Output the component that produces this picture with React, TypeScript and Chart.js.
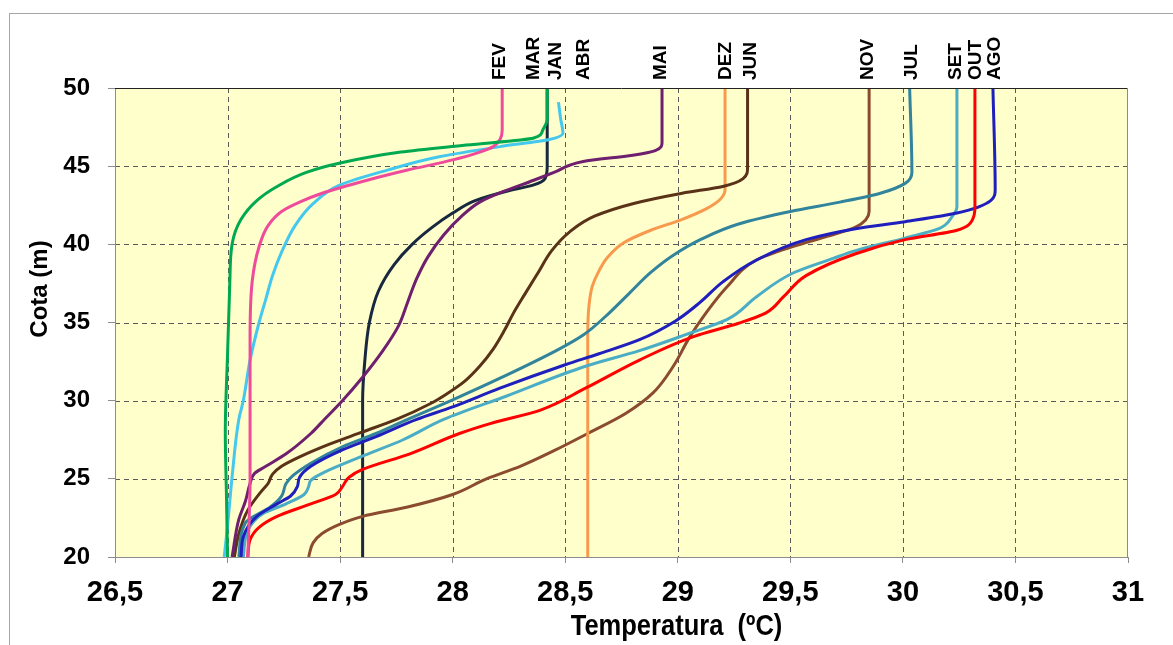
import React, { useEffect, useRef } from 'react';
import { Chart, registerables } from 'chart.js';

Chart.register(...registerables);

// Axis ticks
const xTicks = [26.5, 27, 27.5, 28, 28.5, 29, 29.5, 30, 30.5, 31];
const yTicks = [20, 25, 30, 35, 40, 45, 50];

// Temperature profiles: [temperature (ºC), cota (m)]
const JAN: [number, number][] = [[26.985, 20], [27.0, 22], [27.02, 25.1], [27.05, 28.8], [27.07, 30], [27.1, 32.6], [27.14, 35], [27.17, 36.5], [27.2, 38], [27.24, 39.5], [27.3, 41.2], [27.38, 42.6], [27.5, 43.8], [27.71, 44.75], [27.94, 45.6], [28.21, 46.25], [28.43, 46.7], [28.49, 47.1], [28.48, 48], [28.47, 49.1]];
const FEV: [number, number][] = [[27.09, 20], [27.1, 25], [27.1, 30], [27.1, 34], [27.11, 37.7], [27.14, 39.85], [27.18, 41.2], [27.24, 42.1], [27.32, 42.7], [27.42, 43.27], [27.62, 44.1], [27.8, 44.75], [28.0, 45.4], [28.12, 45.9], [28.18, 46.25], [28.21, 46.7], [28.22, 47.3], [28.22, 50]];
const MAR: [number, number][] = [[27.0, 20], [26.995, 24], [26.99, 28], [27.0, 33], [27.01, 37.5], [27.02, 40], [27.06, 41.6], [27.13, 42.8], [27.22, 43.7], [27.35, 44.6], [27.5, 45.2], [27.77, 45.9], [28.06, 46.35], [28.36, 46.8], [28.4, 47.3], [28.42, 48], [28.42, 50]];
const ABR: [number, number][] = [[27.6, 20], [27.6, 25], [27.6, 30], [27.61, 32.6], [27.63, 35], [27.67, 37], [27.74, 38.7], [27.82, 40.0], [27.91, 41.1], [28.0, 42.0], [28.1, 42.8], [28.24, 43.4], [28.36, 43.8], [28.41, 44.2], [28.42, 45], [28.42, 50]];
const MAI: [number, number][] = [[27.02, 20], [27.05, 22.4], [27.08, 23.6], [27.1, 24.7], [27.12, 25.35], [27.17, 25.8], [27.26, 26.6], [27.37, 27.9], [27.43, 28.8], [27.51, 30], [27.6, 31.5], [27.69, 33.2], [27.76, 34.8], [27.8, 36.3], [27.84, 37.8], [27.89, 39.2], [27.96, 40.6], [28.04, 41.8], [28.12, 42.7], [28.22, 43.35], [28.36, 44.1], [28.45, 44.6], [28.58, 45.3], [28.8, 45.7], [28.9, 46.0], [28.93, 46.5], [28.93, 50]];
const JUN: [number, number][] = [[27.03, 20], [27.05, 21.5], [27.09, 23], [27.15, 24.2], [27.18, 24.7], [27.2, 25.3], [27.24, 25.8], [27.32, 26.4], [27.45, 27.2], [27.6, 28.0], [27.75, 28.8], [27.9, 29.8], [27.97, 30.4], [28.05, 31.2], [28.12, 32.2], [28.18, 33.3], [28.23, 34.5], [28.27, 35.6], [28.32, 36.8], [28.38, 38.2], [28.44, 39.6], [28.52, 40.8], [28.63, 41.8], [28.8, 42.6], [29.02, 43.27], [29.2, 43.7], [29.29, 44.2], [29.31, 44.9], [29.31, 50]];
const JUL: [number, number][] = [[27.05, 20], [27.08, 22.2], [27.19, 23.2], [27.24, 23.9], [27.26, 24.7], [27.29, 25.2], [27.37, 26.0], [27.51, 27.05], [27.66, 27.9], [27.8, 28.8], [28.0, 30.05], [28.22, 31.5], [28.46, 33.2], [28.58, 34.2], [28.68, 35.4], [28.78, 36.8], [28.88, 38.2], [28.98, 39.3], [29.1, 40.3], [29.27, 41.3], [29.5, 42.1], [29.72, 42.7], [29.9, 43.27], [30.01, 43.9], [30.04, 44.6], [30.03, 50]];
const AGO: [number, number][] = [[27.06, 20], [27.07, 21.3], [27.13, 22.6], [27.22, 23.4], [27.28, 23.9], [27.31, 24.5], [27.32, 25.1], [27.37, 25.8], [27.51, 26.85], [27.66, 27.7], [27.84, 28.8], [28.0, 29.6], [28.21, 30.8], [28.5, 32.3], [28.65, 33.0], [28.83, 33.9], [28.99, 35.1], [29.1, 36.3], [29.2, 37.6], [29.35, 39.0], [29.57, 40.3], [29.79, 41.0], [30.01, 41.45], [30.24, 42.0], [30.39, 42.8], [30.41, 43.5], [30.4, 50]];
const SET: [number, number][] = [[27.07, 20], [27.09, 21.7], [27.16, 22.8], [27.26, 23.4], [27.34, 24.0], [27.36, 24.5], [27.37, 24.9], [27.42, 25.35], [27.59, 26.4], [27.78, 27.5], [27.96, 28.8], [28.24, 30.3], [28.59, 32.2], [28.83, 33.2], [29.05, 34.3], [29.22, 35.2], [29.35, 36.65], [29.51, 38.15], [29.69, 39.1], [29.79, 39.6], [30.01, 40.4], [30.16, 41.0], [30.22, 41.8], [30.24, 42.4], [30.24, 50]];
const OUT: [number, number][] = [[27.09, 20], [27.1, 21.1], [27.14, 21.9], [27.22, 22.6], [27.37, 23.4], [27.48, 24.0], [27.51, 24.5], [27.54, 25.1], [27.6, 25.6], [27.81, 26.6], [28.03, 27.9], [28.17, 28.55], [28.39, 29.4], [28.59, 30.8], [28.83, 32.6], [29.07, 34.1], [29.27, 34.95], [29.39, 35.6], [29.47, 36.65], [29.57, 38.0], [29.79, 39.4], [30.01, 40.3], [30.24, 40.9], [30.31, 41.6], [30.32, 42.4], [30.32, 50]];
const NOV: [number, number][] = [[27.36, 20], [27.38, 20.9], [27.42, 21.5], [27.5, 22.1], [27.6, 22.6], [27.8, 23.2], [28.0, 24.0], [28.15, 25.0], [28.3, 25.8], [28.45, 26.8], [28.6, 27.9], [28.77, 29.2], [28.89, 30.5], [28.98, 32.2], [29.05, 34.0], [29.12, 35.5], [29.22, 37.3], [29.35, 39.0], [29.51, 39.85], [29.66, 40.5], [29.79, 41.1], [29.85, 42.1], [29.85, 50]];
const DEZ: [number, number][] = [[28.6, 20], [28.6, 27], [28.6, 34], [28.605, 36], [28.62, 37.3], [28.65, 38.3], [28.69, 39.2], [28.76, 40.1], [28.88, 40.9], [29.02, 41.6], [29.13, 42.3], [29.19, 42.9], [29.21, 43.5], [29.21, 50]];

// Series, colours and drawing order (first = drawn at the bottom)
const seriesNames = ['ABR', 'NOV', 'DEZ', 'JUN', 'JUL', 'SET', 'AGO', 'OUT', 'MAI', 'JAN', 'FEV', 'MAR'];
const seriesData = [ABR, NOV, DEZ, JUN, JUL, SET, AGO, OUT, MAI, JAN, FEV, MAR];
const seriesColors = ['#17283F', '#8B4B2F', '#F79A4E', '#5A3218', '#31849B', '#4BACC6', '#1F1FBE', '#FF0000', '#6E1F6E', '#45C8EE', '#EE4B9B', '#00A94F'];

// Month labels at the top of the plot
const monthNames = ['FEV', 'MAR', 'JAN', 'ABR', 'MAI', 'DEZ', 'JUN', 'NOV', 'JUL', 'SET', 'OUT', 'AGO'];
const monthLabelTemps = [28.21, 28.361, 28.459, 28.583, 28.926, 29.215, 29.325, 29.845, 30.041, 30.236, 30.325, 30.409];

const xTitle = 'Temperatura  (ºC)';
const yTitle = 'Cota (m)';

const decorPlugin = {
  id: 'decor',
  beforeDraw(chart: any) {
    const { ctx, chartArea: a, scales } = chart;
    ctx.save();
    ctx.fillStyle = '#FFFFFF';
    ctx.fillRect(0, 0, chart.width, chart.height);
    ctx.strokeStyle = '#A6A6A6';
    ctx.lineWidth = 1;
    ctx.strokeRect(9.5, 13.5, chart.width + 10, chart.height + 10);
    ctx.fillStyle = '#FFFFCC';
    ctx.fillRect(a.left, a.top, a.right - a.left, a.bottom - a.top);
    ctx.strokeStyle = '#5A5A5A';
    ctx.setLineDash([5, 4]);
    ctx.lineWidth = 1;
    xTicks.forEach((v) => {
      if (v <= xTicks[0] || v >= xTicks[xTicks.length - 1]) return;
      const px = Math.round(scales.x.getPixelForValue(v)) + 0.5;
      ctx.beginPath();
      ctx.moveTo(px, a.top);
      ctx.lineTo(px, a.bottom);
      ctx.stroke();
    });
    yTicks.forEach((v) => {
      if (v <= yTicks[0] || v >= yTicks[yTicks.length - 1]) return;
      const py = Math.round(scales.y.getPixelForValue(v)) + 0.5;
      ctx.beginPath();
      ctx.moveTo(a.left, py);
      ctx.lineTo(a.right, py);
      ctx.stroke();
    });
    ctx.restore();
  },
  afterDatasetsDraw(chart: any) {
    const { ctx, chartArea: a, scales } = chart;
    ctx.save();
    ctx.setLineDash([]);
    ctx.lineWidth = 1;
    ctx.strokeStyle = '#222222';
    ctx.beginPath();
    ctx.moveTo(a.left, a.top + 0.5);
    ctx.lineTo(a.right, a.top + 0.5);
    ctx.stroke();
    ctx.strokeStyle = '#8C8C8C';
    ctx.beginPath();
    ctx.moveTo(a.right - 0.5, a.top);
    ctx.lineTo(a.right - 0.5, a.bottom);
    ctx.stroke();

    // month labels
    ctx.fillStyle = '#000000';
    ctx.font = 'bold 19px "Liberation Sans", Arial, sans-serif';
    ctx.textAlign = 'left';
    ctx.textBaseline = 'middle';
    monthNames.forEach((name, i) => {
      const px = scales.x.getPixelForValue(monthLabelTemps[i]);
      ctx.save();
      ctx.translate(px, a.top - 8);
      ctx.rotate(-Math.PI / 2);
      ctx.fillText(name, 0, 0);
      ctx.restore();
    });

    // axis titles
    ctx.textAlign = 'center';
    ctx.textBaseline = 'middle';
    ctx.save();
    ctx.translate((a.left + a.right) / 2 + 55, 627);
    ctx.scale(0.88, 1);
    ctx.font = 'bold 29px "Liberation Sans", Arial, sans-serif';
    ctx.fillText(xTitle, 0, 0);
    ctx.restore();
    ctx.save();
    ctx.translate(40, 289);
    ctx.rotate(-Math.PI / 2);
    ctx.font = 'bold 24px "Liberation Sans", Arial, sans-serif';
    ctx.fillText(yTitle, 0, 0);
    ctx.restore();
    ctx.restore();
  },
};

export default function App() {
  const ref = useRef<HTMLCanvasElement | null>(null);

  useEffect(() => {
    if (!ref.current) return;
    const n = seriesNames.length;
    const chart = new Chart(ref.current, {
      type: 'line',
      data: {
        datasets: seriesNames.map((name, i) => ({
          label: name,
          data: seriesData[i].map(([t, z]) => ({ x: t, y: z })),
          borderColor: seriesColors[i],
          backgroundColor: seriesColors[i],
          borderWidth: 3,
          pointRadius: 0,
          fill: false,
          cubicInterpolationMode: 'monotone',
          order: n - i,
        })),
      },
      options: {
        responsive: false,
        animation: false,
        indexAxis: 'y',
        layout: { padding: { left: 0, top: 88, right: 45, bottom: 0 } },
        plugins: { legend: { display: false }, tooltip: { enabled: false } },
        scales: {
          x: {
            type: 'linear',
            position: 'bottom',
            min: 26.5,
            max: 31,
            afterBuildTicks: (s: any) => {
              s.ticks = xTicks.map((v) => ({ value: v }));
            },
            afterFit: (s: any) => {
              s.height = 88;
            },
            ticks: {
              autoSkip: false,
              maxRotation: 0,
              padding: 13,
              color: '#000000',
              font: { family: '"Liberation Sans", Arial, sans-serif', size: 29, weight: 'bold' },
              callback: (v: any) => String(v).replace('.', ','),
            },
            grid: { drawOnChartArea: false, drawTicks: true, tickLength: 6, tickColor: '#8C8C8C' },
            border: { display: true, color: '#8C8C8C', width: 1 },
          },
          y: {
            type: 'linear',
            position: 'left',
            min: 20,
            max: 50,
            afterBuildTicks: (s: any) => {
              s.ticks = yTicks.map((v) => ({ value: v }));
            },
            afterFit: (s: any) => {
              s.width = 115;
            },
            ticks: {
              autoSkip: false,
              padding: 18,
              color: '#000000',
              font: { family: '"Liberation Sans", Arial, sans-serif', size: 24, weight: 'bold' },
            },
            grid: { drawOnChartArea: false, drawTicks: true, tickLength: 7, tickColor: '#8C8C8C' },
            border: { display: true, color: '#8C8C8C', width: 1 },
          },
        },
      },
      plugins: [decorPlugin],
    } as any);
    return () => chart.destroy();
  }, []);

  return (
    <div style={{ position: 'absolute', left: 0, top: 0, width: 1173, height: 645 }}>
      <canvas ref={ref} width={1173} height={645} />
    </div>
  );
}
